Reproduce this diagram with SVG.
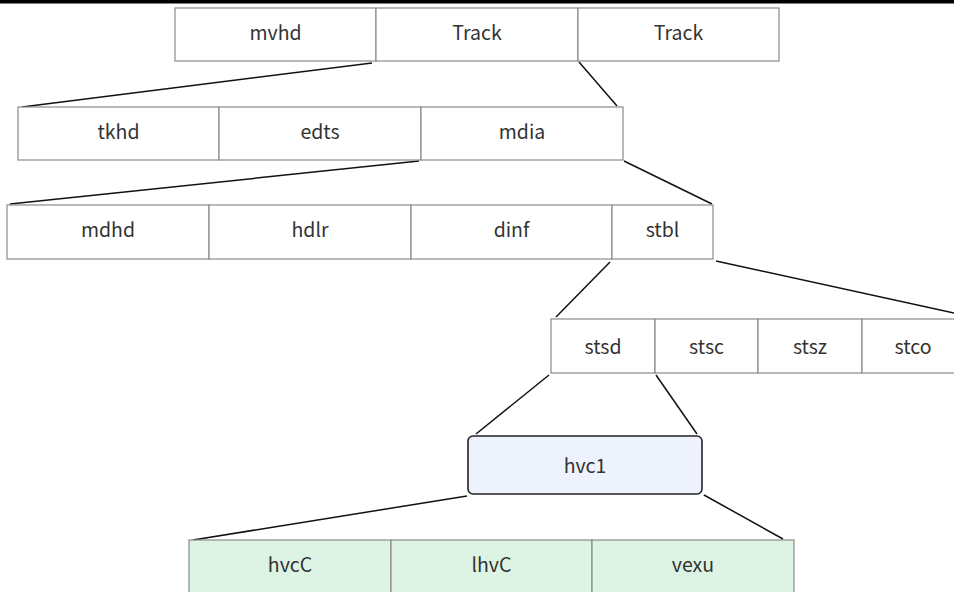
<svg xmlns="http://www.w3.org/2000/svg" width="954" height="592" viewBox="0 0 954 592">
<style>
.c{fill:#fff;stroke:#8a8a8a;stroke-width:1.2}
.g{fill:#ddf3e4;stroke:#8a8a8a;stroke-width:1.2}
.t{font-family:"Noto Sans CJK SC","Noto Sans",sans-serif;font-size:19.5px;fill:#333;text-anchor:middle;dominant-baseline:central}
.l{stroke:#111;stroke-width:1.5;fill:none}
</style>
<rect x="0" y="0" width="954" height="592" fill="#fff"/>
<rect x="0" y="0" width="954" height="3.5" fill="#000"/>
<g id="connectors">
<line class="l" x1="372" y1="63" x2="22" y2="107"/>
<line class="l" x1="579" y1="62" x2="617" y2="106"/>
<line class="l" x1="419" y1="161" x2="10" y2="204"/>
<line class="l" x1="624" y1="161" x2="712" y2="204"/>
<line class="l" x1="610" y1="262" x2="556" y2="317"/>
<line class="l" x1="716" y1="261" x2="954" y2="313"/>
<line class="l" x1="549" y1="375" x2="476" y2="434"/>
<line class="l" x1="656" y1="375" x2="697" y2="434"/>
<line class="l" x1="467" y1="496" x2="193" y2="540"/>
<line class="l" x1="704" y1="495" x2="783" y2="539"/>
</g>
<g id="row1">
<rect class="c" x="175" y="8" width="201" height="53"/><text class="t" x="275.5" y="31">mvhd</text>
<rect class="c" x="376" y="8" width="202" height="53"/><text class="t" x="477" y="31">Track</text>
<rect class="c" x="578" y="8" width="201" height="53"/><text class="t" x="678.5" y="31">Track</text>
</g>
<g id="row2">
<rect class="c" x="18" y="107" width="201" height="53"/><text class="t" x="118.5" y="130">tkhd</text>
<rect class="c" x="219" y="107" width="202" height="53"/><text class="t" x="320" y="130">edts</text>
<rect class="c" x="421" y="107" width="202" height="53"/><text class="t" x="522" y="130">mdia</text>
</g>
<g id="row3">
<rect class="c" x="7" y="205" width="202" height="54"/><text class="t" x="108" y="228.5">mdhd</text>
<rect class="c" x="209" y="205" width="202" height="54"/><text class="t" x="310" y="228.5">hdlr</text>
<rect class="c" x="411" y="205" width="201" height="54"/><text class="t" x="511.5" y="228.5">dinf</text>
<rect class="c" x="612" y="205" width="101" height="54"/><text class="t" x="662.5" y="228.5">stbl</text>
</g>
<g id="row4">
<rect class="c" x="551" y="319" width="104" height="54"/><text class="t" x="603" y="345">stsd</text>
<rect class="c" x="655" y="319" width="103" height="54"/><text class="t" x="706.5" y="345">stsc</text>
<rect class="c" x="758" y="319" width="104" height="54"/><text class="t" x="810" y="345">stsz</text>
<rect class="c" x="862" y="319" width="103" height="54"/><text class="t" x="913" y="345">stco</text>
</g>
<g id="hvc1">
<rect x="468" y="436" width="234" height="58" rx="5" fill="#eef2fc" stroke="#222" stroke-width="1.6"/><text class="t" x="585" y="464">hvc1</text>
</g>
<g id="row5">
<rect class="g" x="189" y="540" width="202" height="56"/><text class="t" x="290" y="563">hvcC</text>
<rect class="g" x="391" y="540" width="201" height="56"/><text class="t" x="491.5" y="563">lhvC</text>
<rect class="g" x="592" y="540" width="202" height="56"/><text class="t" x="693" y="563">vexu</text>
</g>
</svg>
